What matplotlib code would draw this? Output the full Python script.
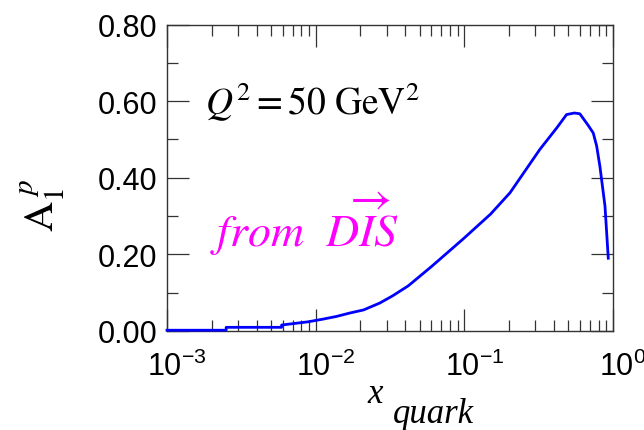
import matplotlib
matplotlib.use("Agg")
import matplotlib.pyplot as plt
from matplotlib.ticker import FixedLocator, LogLocator, NullFormatter
from matplotlib.transforms import ScaledTranslation

plt.rcParams['font.family'] = ['Liberation Sans', 'DejaVu Sans']
plt.rcParams['mathtext.fontset'] = 'custom'
plt.rcParams['mathtext.rm'] = 'Liberation Sans'
plt.rcParams['mathtext.it'] = 'Liberation Sans:italic'

# curve
x_quark = [0.001, 0.0025, 0.0025, 0.0059, 0.0059, 0.0089, 0.0112, 0.0138, 0.017,
           0.021, 0.027, 0.033, 0.042, 0.06, 0.098, 0.15, 0.203, 0.322, 0.42,
           0.487, 0.55, 0.598, 0.68, 0.736, 0.776, 0.816, 0.883, 0.929]
a1p = [0.002, 0.002, 0.0096, 0.0096, 0.0156, 0.024, 0.031, 0.038, 0.047,
       0.055, 0.073, 0.092, 0.118, 0.168, 0.24, 0.305, 0.361, 0.474, 0.531,
       0.565, 0.569, 0.567, 0.537, 0.517, 0.483, 0.43, 0.326, 0.19]

x_ticks = [1e-3, 1e-2, 1e-1, 1e0]
x_tick_labels = [r'$10^{-3}$', r'$10^{-2}$', r'$10^{-1}$', r'$10^{0}$']
y_ticks = [0.0, 0.2, 0.4, 0.6, 0.8]
y_minor = [0.1, 0.3, 0.5, 0.7]

fig = plt.figure(figsize=(6.44, 4.31), dpi=100)
ax = fig.add_axes([0.2593, 0.2297, 0.6926, 0.7111])

ax.plot(x_quark, a1p, color='#0000ff', lw=2.0, clip_on=False, zorder=3)

ax.set_xscale('log')
ax.set_xlim(1e-3, 1.0)
ax.set_ylim(0, 0.8)

ax.xaxis.set_major_locator(FixedLocator(x_ticks))
ax.set_xticklabels(x_tick_labels)
ax.xaxis.set_minor_locator(LogLocator(base=10, subs=range(2, 10)))
ax.xaxis.set_minor_formatter(NullFormatter())
ax.set_yticks(y_ticks)
ax.set_yticklabels(['%.2f' % v for v in y_ticks])
ax.set_yticks(y_minor, minor=True)

ax.tick_params(which='both', direction='in', top=True, right=True, width=0.9, color='#333333')
ax.tick_params(which='major', length=16)
ax.tick_params(which='minor', length=8)
ax.tick_params(axis='y', which='major', labelsize=22, pad=7)
ax.tick_params(axis='x', which='major', labelsize=22, pad=14)
for s in ax.spines.values():
    s.set_color('#333333')
    s.set_linewidth(1.0)

# "10" sits centred on the tick, the exponent hangs to the right
shift = ScaledTranslation(0.10, 0, fig.dpi_scale_trans)
for lab in ax.get_xticklabels():
    lab.set_transform(lab.get_transform() + shift)

ax.text(0.085, 0.708, r'$Q^2 = 50\ \mathrm{GeV}^2$', transform=ax.transAxes,
        fontsize=27, math_fontfamily='stix', va='baseline', ha='left')
ax.text(0.096, 0.277, r'$\mathit{from}\ \ \overrightarrow{\mathit{DIS}}$', transform=ax.transAxes,
        fontsize=33, math_fontfamily='stix', color='#ff00ff', va='baseline', ha='left')

# axis titles
fig.text(0.0668, 0.524, r'$\mathrm{A}_{1}^{\ p}$', rotation=90, fontsize=30,
         math_fontfamily='stix', ha='center', va='center')
fig.text(0.571, 0.065, 'x', fontsize=25, family='Liberation Serif', style='italic', va='baseline')
fig.text(0.610, 0.0186, 'quark', fontsize=25, family='Liberation Serif', style='italic', va='baseline')

fig.savefig('out.png', dpi=100)
